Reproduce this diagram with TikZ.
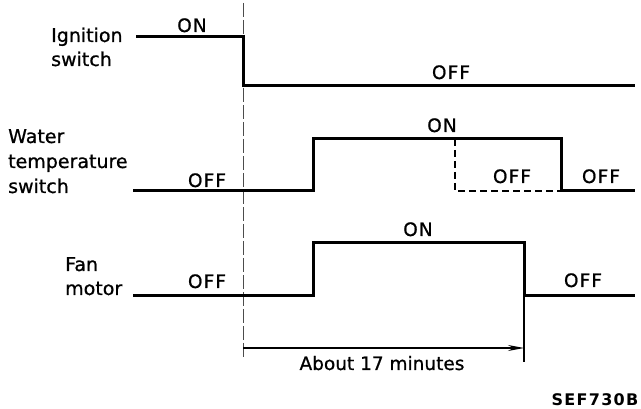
\documentclass[tikz,border=0pt]{standalone}
\usepackage{fontspec}
\setmainfont{DejaVu Sans}[FakeBold=0.8]
\newfontfamily\statefont{DejaVu Sans}[LetterSpace=6,FakeBold=0.8]
\newfontfamily\codefont{DejaVu Sans Bold}[LetterSpace=8]
\usetikzlibrary{arrows.meta}
\begin{document}
\begin{tikzpicture}[x=1pt,y=-1pt,
  sig/.style={line width=3pt, line join=miter, line cap=rect},
  sigdash/.style={line width=2.4pt, dash pattern=on 7pt off 4pt},
  refline/.style={line width=1pt, black!70, dash pattern=on 14pt off 3pt},
  dimline/.style={line width=1.6pt},
  lbl/.style={inner sep=0pt, anchor=base west, font=\fontsize{19}{22}\selectfont},
  st/.style={inner sep=0pt, anchor=base, font=\fontsize{18.5}{22}\statefont},
]
\useasboundingbox (0,0) rectangle (641,409);

% reference line at ignition off
\coordinate (r0) at (243,3);
\coordinate (r1) at (243,360);
\draw[refline] (r0) -- (r1);

% Ignition switch
\node[lbl] (ign1) at (51,42) {Ignition};
\node[lbl] (ign2) at (51,66) {switch};
\coordinate (i0) at (137,37);
\coordinate (i1) at (243,37);
\coordinate (i2) at (243,86);
\coordinate (i3) at (633,86);
\draw[sig] (i0) -- (i1) -- (i2) -- (i3);
\node[st] (ion) at (192,32) {ON};
\node[st] (ioff) at (451,79) {OFF};

% Water temperature switch
\node[lbl] (wat1) at (8,143) {Water};
\node[lbl] (wat2) at (8,168) {temperature};
\node[lbl] (wat3) at (8,193) {switch};
\coordinate (w0) at (134,191);
\coordinate (w1) at (313,191);
\coordinate (w2) at (313,139);
\coordinate (w3) at (561,139);
\coordinate (w4) at (561,191);
\coordinate (w5) at (633,191);
\coordinate (wd0) at (455,139);
\coordinate (wd1) at (455,191);
\draw[sig] (w0) -- (w1) -- (w2) -- (w3) -- (w4) -- (w5);
\draw[sigdash] (wd0) -- (wd1) -- (w4);
\node[st] (woff1) at (207,187) {OFF};
\node[st] (won) at (442,132) {ON};
\node[st] (woff2) at (512,183) {OFF};
\node[st] (woff3) at (601,183) {OFF};

% Fan motor
\node[lbl] (fan1) at (65,271) {Fan};
\node[lbl] (fan2) at (65,295) {motor};
\coordinate (f0) at (134,296);
\coordinate (f1) at (313,296);
\coordinate (f2) at (313,243);
\coordinate (f3) at (524,243);
\coordinate (f4) at (524,296);
\coordinate (f5) at (633,296);
\draw[sig] (f0) -- (f1) -- (f2) -- (f3) -- (f4) -- (f5);
\node[st] (foff1) at (207,288) {OFF};
\node[st] (fon) at (418,236) {ON};
\node[st] (foff2) at (583,287) {OFF};

% duration
\coordinate (t1) at (524,362);
\draw[dimline] (f4) -- (t1);
\coordinate (a0) at (243,348);
\coordinate (a1) at (524,348);
\draw[dimline, -{Stealth[length=16pt,width=6pt]}] (a0) -- (a1);
\node[inner sep=0pt, anchor=base, font=\fontsize{18.5}{22}\selectfont] (dur) at (382,370) {About 17 minutes};

% code
\node[inner sep=0pt, anchor=base, font=\fontsize{16}{19}\codefont] (code) at (595,405) {SEF730B};
\end{tikzpicture}
\end{document}
